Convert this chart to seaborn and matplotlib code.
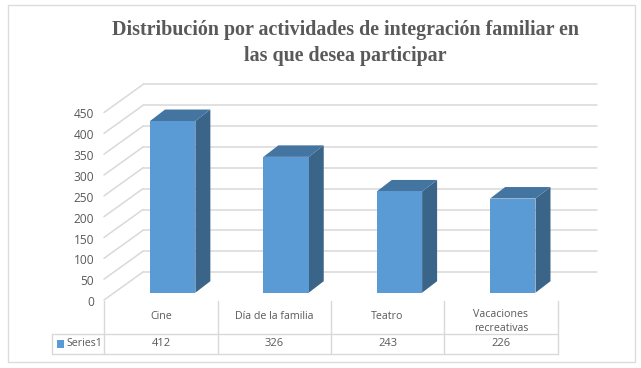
import numpy as np
import matplotlib
matplotlib.use("Agg")
import matplotlib.pyplot as plt
from matplotlib.patches import Polygon, Rectangle
import pandas as pd
import seaborn as sns

categories = ["Cine", "Día de la familia", "Teatro", "Vacaciones\nrecreativas"]
values = [412, 326, 243, 226]
y_ticks = [0, 50, 100, 150, 200, 250, 300, 350, 400, 450]
series_name = "Series1"
title = "Distribución por actividades de integración familiar en\nlas que desea participar"

W, H = 641, 368
FRONT = "#5b9bd5"
TOP = "#4474a0"
SIDE = "#3a6589"
GRID = "#d9d9d9"
TEXT = "#595959"


def px_axes(fig, left, top, right, bottom):
    # axes placed by pixel box, y measured from the top of the image
    return fig.add_axes([left / W, 1 - bottom / H, (right - left) / W, (bottom - top) / H])


sns.set_theme(style="white")
plt.rcParams["font.family"] = ["Open Sans", "DejaVu Sans"]
fig = plt.figure(figsize=(W / 100, H / 100), dpi=100)

# page layer for the outer frame and title
page = fig.add_axes([0, 0, 1, 1])
page.set_xlim(0, W)
page.set_ylim(H, 0)
page.axis("off")
page.add_patch(Rectangle((7.5, 4.5), 627.5, 357.5, fc="white", ec="#dcdcdc", lw=1))
page.text(345.5, 43, title, ha="center", va="center", fontsize=14.4, fontweight="bold",
          family="Liberation Serif", color=TEXT, linespacing=1.42)

# bars: 113.4 px per category, 0.4167 px per unit
ax = px_axes(fig, 116, 105.2, 569.5, 292.7)
df = pd.DataFrame({"cat": categories, "val": values})
sns.barplot(data=df, x="cat", y="val", ax=ax, color=FRONT, saturation=1, width=0.4,
            edgecolor="none", linewidth=0, zorder=5)
ax.set_xlim(-0.5, 3.5)
ax.set_ylim(0, 450)
ax.axis("off")
ax.patch.set_alpha(0)

per_x = (569.5 - 116) / 4
per_y = (292.7 - 105.2) / 450
dx = 15 / per_x
dy = 11.5 / per_y

# back wall and left wall, in the same data space as the bars
wall_dy = 20.7 / per_y
x_back0 = (143 - 116) / per_x - 0.5
x_back1 = (597 - 116) / per_x - 0.5
x_side = (104 - 116) / per_x - 0.5
for t in y_ticks:
    ax.plot([x_back0, x_back1], [t + wall_dy, t + wall_dy], color=GRID, lw=1.1, zorder=1, clip_on=False)
    ax.plot([x_side, x_back0], [t - 7.3 / per_y, t + wall_dy], color=GRID, lw=1.1, zorder=1, clip_on=False)

# 3d faces
for i, v in enumerate(values):
    x0, x1 = i - 0.2, i + 0.2
    ax.add_patch(Polygon([(x1, 0), (x1 + dx, dy), (x1 + dx, v + dy), (x1, v)], fc=SIDE, ec="none", zorder=4, clip_on=False))
    ax.add_patch(Polygon([(x0, v), (x0 + dx, v + dy), (x1 + dx, v + dy), (x1, v)], fc=TOP, ec="none", zorder=4, clip_on=False))

# value axis labels sit on the front edge of the left wall
ax_y = px_axes(fig, 104, 113.5, 110, 301)
ax_y.set_ylim(0, 450)
ax_y.set_xticks([])
ax_y.set_yticks(y_ticks)
ax_y.tick_params(axis="y", length=0, pad=7, labelsize=8.6, labelcolor=TEXT)
ax_y.patch.set_alpha(0)
sns.despine(ax=ax_y, left=True, bottom=True)

# data table under the chart
tab = px_axes(fig, 104.5, 301, 557.5, 353.5)
tab.set_xlim(0, 4)
tab.set_ylim(1, 0)
tab.axis("off")
tab.patch.set_alpha(0)
row = (334.3 - 301) / (353.5 - 301)
for k in range(5):
    tab.plot([k, k], [0, 1], color=GRID, lw=1, clip_on=False)
tab.plot([-52 / 113.25, 4], [row, row], color=GRID, lw=1, clip_on=False)
tab.plot([-52 / 113.25, 4], [1, 1], color=GRID, lw=1, clip_on=False)
tab.plot([-52 / 113.25, -52 / 113.25], [row, 1], color=GRID, lw=1, clip_on=False)
for i, (c, v) in enumerate(zip(categories, values)):
    tab.text(i + 0.5, row / 2 - 0.02 if "\n" not in c else row / 2 + 0.07, c, ha="center", va="center",
             fontsize=7.7, color=TEXT, linespacing=1.3)
    tab.text(i + 0.5, (row + 1) / 2, str(v), ha="center", va="center", fontsize=8, color=TEXT)
tab.add_patch(Rectangle((-47 / 113.25, (row + 1) / 2 - 0.075), 7 / 113.25, 0.15, fc=FRONT, ec="none", clip_on=False))
tab.text(-38 / 113.25, (row + 1) / 2, series_name, ha="left", va="center", fontsize=7.7, color=TEXT)

fig.savefig("out.png", dpi=100)
